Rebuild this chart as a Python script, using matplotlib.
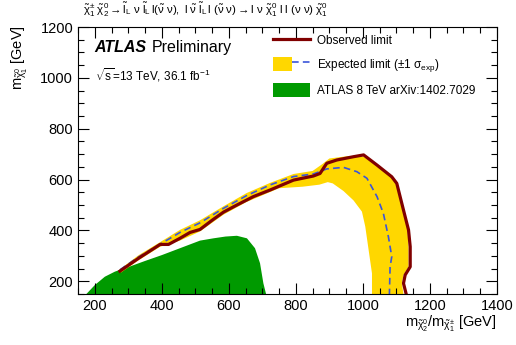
import matplotlib
matplotlib.use("Agg")
import matplotlib.pyplot as plt
from matplotlib.lines import Line2D
from matplotlib.patches import Patch
from matplotlib.legend_handler import HandlerTuple
from matplotlib.ticker import MultipleLocator

plt.rcParams['font.family'] = ['Liberation Sans', 'DejaVu Sans']
plt.rcParams['mathtext.fontset'] = 'custom'
plt.rcParams['mathtext.rm'] = 'Liberation Sans'
plt.rcParams['mathtext.it'] = 'Liberation Sans:italic'
plt.rcParams['mathtext.bf'] = 'Liberation Sans:bold'
plt.rcParams['mathtext.default'] = 'regular'

# ATLAS 8 TeV excluded region
green_x = [175, 200, 230, 260, 300, 350, 400, 454, 514, 554, 590, 624, 654, 678, 693, 703, 711]
green_y = [150, 185, 218, 238, 256, 280, 303, 330, 360, 369, 376, 379, 369, 330, 271, 192, 150]

# observed limit
obs_x = [275, 330, 395, 420, 454, 484, 514, 550, 584, 624, 673, 723, 793, 852, 872, 892, 922,
         972, 1002, 1042, 1086, 1101, 1121, 1136, 1141, 1141, 1126, 1121, 1129]
obs_y = [240, 290, 345, 345, 369, 392, 404, 440, 472, 500, 533, 559, 598, 614, 624, 664, 677,
         690, 697, 657, 611, 585, 480, 402, 336, 257, 225, 192, 150]

# expected limit
exp_x = [275, 330, 400, 454, 514, 584, 653, 723, 793, 852, 892, 942, 982, 1012, 1042, 1061,
         1076, 1086, 1081, 1079]
exp_y = [245, 295, 350, 392, 430, 487, 537, 579, 612, 622, 642, 648, 631, 605, 533, 467,
         375, 297, 257, 150]

# +-1 sigma band: outer edge then inner edge
band_up_x = [272, 330, 400, 454, 514, 584, 653, 723, 793, 850, 880, 900, 960, 1002, 1042,
             1086, 1101, 1121, 1133, 1136, 1136, 1121, 1116, 1121]
band_up_y = [244, 302, 358, 402, 440, 495, 547, 587, 622, 634, 662, 683, 693, 690, 657,
             611, 585, 480, 402, 336, 257, 225, 192, 150]
band_lo_x = [1027, 1027, 1017, 1007, 997, 972, 942, 910, 895, 870, 820, 750, 653, 584, 514,
             454, 395, 330, 278]
band_lo_y = [150, 231, 323, 415, 474, 518, 555, 585, 590, 580, 572, 566, 512, 462, 396,
             360, 336, 282, 234]

c_obs = '#800000'
c_exp = '#3b55d9'
c_band = '#ffd700'
c_green = '#009a00'

fig = plt.figure(figsize=(5.16, 3.45), dpi=100)
ax = fig.add_axes([0.1512, 0.1478, 0.812, 0.7739])

ax.fill(green_x, green_y, color=c_green, lw=0)
ax.fill(band_up_x + band_lo_x, band_up_y + band_lo_y, color=c_band, lw=0)
ax.plot(exp_x, exp_y, color=c_exp, lw=1.2, ls=(0, (4, 2.5)))
ax.plot(obs_x, obs_y, color=c_obs, lw=2.3)

ax.set_xlim(150, 1400)
ax.set_ylim(150, 1200)
ax.xaxis.set_major_locator(MultipleLocator(200))
ax.xaxis.set_minor_locator(MultipleLocator(50))
ax.yaxis.set_major_locator(MultipleLocator(200))
ax.yaxis.set_minor_locator(MultipleLocator(50))
ax.tick_params(which='both', direction='in', top=True, right=True, labelsize=10.5)
ax.tick_params(which='major', length=8, width=0.8)
ax.tick_params(which='minor', length=4, width=0.8)
ax.set_xticks([200, 400, 600, 800, 1000, 1200, 1400])
ax.set_yticks([200, 400, 600, 800, 1000, 1200])

fig.text(496 / 516, 1 - 327 / 345,
         r'$m_{\tilde{\chi}^{0}_{2}}/m_{\tilde{\chi}^{\pm}_{1}}$ [GeV]',
         ha='right', va='baseline', fontsize=10.5)
fig.text(20 / 516, 1 - 25 / 345, r'$m_{\tilde{\chi}^{0}_{1}}$ [GeV]',
         ha='center', va='top', rotation=90, fontsize=10.5)

title = (r'$\tilde{\chi}^{\pm}_{1}\ \tilde{\chi}^{0}_{2} \rightarrow \tilde{l}_{L}\ \nu\ \tilde{l}_{L}\,l(\tilde{\nu}\ \nu),'
         r'\ l\ \tilde{\nu}\ \tilde{l}_{L}\,l\ (\tilde{\nu}\ \nu) \rightarrow l\ \nu\ \tilde{\chi}^{0}_{1}\ l\ l\ (\nu\ \nu)\ \tilde{\chi}^{0}_{1}$')
fig.text(83 / 516, 1 - 14 / 345, title, ha='left', va='baseline', fontsize=8.2)

ax.text(0.04, 0.907, 'ATLAS', transform=ax.transAxes, fontsize=11.5,
        fontweight='bold', fontstyle='italic', va='baseline')
ax.text(0.175, 0.907, 'Preliminary', transform=ax.transAxes, fontsize=11.5, va='baseline')
ax.text(0.04, 0.80, r'$\sqrt{s}$=13 TeV, 36.1 fb$^{-1}$', transform=ax.transAxes,
        fontsize=8.5, va='baseline')

h_obs = Line2D([], [], color=c_obs, lw=2.3)
h_exp = (Patch(color=c_band, lw=0), Line2D([], [], color=c_exp, lw=1.2, ls=(0, (4, 2.5))))
h_old = Patch(color=c_green, lw=0)
ax.legend([h_obs, h_exp, h_old],
          ['Observed limit', r'Expected limit ($\pm$1 $\sigma_{exp}$)', 'ATLAS 8 TeV arXiv:1402.7029'],
          handler_map={tuple: HandlerTuple(ndivide=None, pad=0)},
          loc='upper left', bbox_to_anchor=(0.455, 0.995), frameon=False, fontsize=8.5,
          handlelength=3.1, handleheight=1.5, labelspacing=0.78, handletextpad=0.6,
          borderaxespad=0)

fig.savefig('out.png', dpi=100)
